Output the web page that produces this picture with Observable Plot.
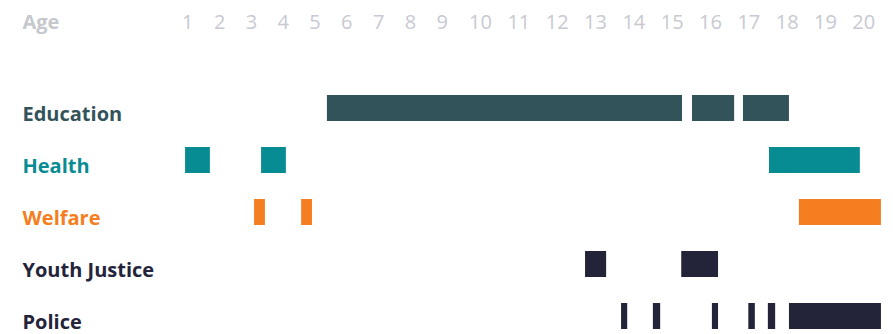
<!DOCTYPE html>
<html>
<head>
<meta charset="utf-8">
<script src="https://cdn.jsdelivr.net/npm/d3@7"></script>
<script src="https://cdn.jsdelivr.net/npm/@observablehq/plot@0.6"></script>
<style>
  html, body { margin: 0; padding: 0; background: #fff; }
  #chart svg { display: block; }
</style>
</head>
<body>
<div id="chart"></div>
<script>
const categories = ["Education", "Health", "Welfare", "Youth Justice", "Police"];
const categoryColors = ["#33535a", "#088c93", "#f47e20", "#23243a", "#23243a"];
const ageTicks = [1, 2, 3, 4, 5, 6, 7, 8, 9, 10, 11, 12, 13, 14, 15, 16, 17, 18, 19, 20];

// [start age, end age] spans for each service
const educationSpans = [[5.39, 15.27], [15.53, 16.63], [16.86, 18.06]];
const healthSpans = [[0.93, 1.71], [3.32, 4.10], [17.54, 19.91]];
const welfareSpans = [[3.10, 3.44], [4.58, 4.92], [18.32, 20.46]];
const youthJusticeSpans = [[12.74, 13.29], [15.25, 16.21]];
const policeSpans = [[13.68, 13.84], [14.51, 14.70], [16.05, 16.21], [17.00, 17.17], [17.51, 17.70], [18.06, 20.46]];

const spanLists = [educationSpans, healthSpans, welfareSpans, youthJusticeSpans, policeSpans];
const spans = categories.flatMap((cat, i) => spanLists[i].map(([start, end]) => ({cat, start, end})));

const chart = Plot.plot({
  width: 893,
  height: 334,
  marginTop: 0,
  marginLeft: 22,
  marginRight: 0,
  marginBottom: 0,
  style: {fontFamily: "'Open Sans', sans-serif", background: "#fff"},
  x: {type: "linear", domain: [1, 9, 20], range: [187.3, 441.7, 863.3], axis: null},
  y: {type: "band", domain: categories, range: [82, 342], paddingInner: 0.5, paddingOuter: 0.25, axis: null},
  color: {domain: categories, range: categoryColors},
  marks: [
    Plot.text(["Age"], {frameAnchor: "top-left", text: d => d, dy: 22, lineAnchor: "middle", textAnchor: "start",
      fontSize: 20, fontWeight: 700, fill: "#c6c8cc"}),
    Plot.text(ageTicks, {x: d => d, text: d => String(d), frameAnchor: "top", dy: 22, lineAnchor: "middle",
      fontSize: 20, fill: "#c8c9d2"}),
    Plot.barX(spans, {x1: "start", x2: "end", y: "cat", fill: "cat"}),
    Plot.text(categories, {y: d => d, text: d => d, frameAnchor: "left", textAnchor: "start",
      dy: 6, fontSize: 20, fontWeight: 700, fill: d => d})
  ]
});
document.getElementById("chart").appendChild(chart);
</script>
</body>
</html>
